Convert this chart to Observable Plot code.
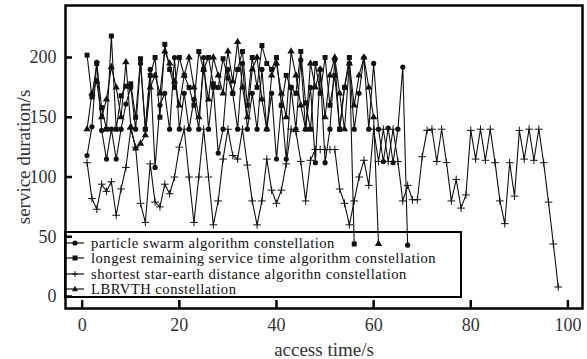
<!DOCTYPE html>
<html><head><meta charset="utf-8">
<script src="https://cdn.jsdelivr.net/npm/d3@7"></script>
<script src="https://cdn.jsdelivr.net/npm/@observablehq/plot@0.6"></script>
<style>
body{margin:0;background:#fff;}
#wrap{position:relative;width:587px;height:359px;font-family:"Liberation Serif","Times New Roman","DejaVu Serif",serif;}
#wrap svg text{font-family:"Liberation Serif","Times New Roman","DejaVu Serif",serif;}
#legend{position:absolute;left:64px;top:231px;width:398px;height:67px;border:2.5px solid #000;box-sizing:border-box;}
.row{position:absolute;left:0;height:14px;display:flex;align-items:center;font-size:14.6px;letter-spacing:0.5px;line-height:14px;color:#111;white-space:nowrap;}
.row svg{margin-right:7px;}
</style></head><body><div id="wrap"></div>
<script>
const seriesNames = [
  "particle swarm algorithm constellation",
  "longest remaining service time algorithm constellation",
  "shortest star-earth distance algorithn constellation",
  "LBRVTH constellation"
];
const xTicks = [0, 20, 40, 60, 80, 100];
const yTicks = [0, 50, 100, 150, 200];

// particle swarm (circles), t = 1..67
const psoValues = [118,142,196,139,115,140,115,140,161,175,140,195,140,190,108,160,170,140,200,140,
  170,140,165,140,200,140,175,120,140,190,170,140,195,140,170,140,190,140,170,115,
  160,115,175,140,198,140,175,112,190,112,140,198,140,175,195,140,170,200,140,195,
  140,113,141,112,140,192,43];
// longest remaining service time (squares), t = 1..56
const lrstValues = [202,167,195,158,140,218,140,168,176,178,150,199,140,185,200,150,211,190,175,200,
  185,175,160,205,190,200,178,175,199,183,170,190,205,160,200,175,210,195,190,200,
  160,185,175,170,205,162,140,195,170,200,160,185,140,175,200,44];
// shortest star-earth distance (plus), t = 1..98
const sseValues = [112,82,73,94,88,96,68,90,108,140,125,78,62,111,79,75,94,86,100,125,
  140,100,62,100,140,100,60,80,115,140,118,115,140,110,80,60,80,115,89,78,
  89,111,140,138,113,80,114,123,123,123,123,123,90,78,60,80,100,114,93,140,
  113,140,113,140,113,80,93,81,81,117,139,140,113,140,112,80,98,74,85,139,
  115,140,114,140,112,80,61,112,84,139,115,140,114,140,112,79,44,8];
// LBRVTH (triangles), t = 1..61
const lbrvthValues = [140,170,180,150,165,192,175,150,196,142,124,128,135,175,185,170,205,195,180,160,
  185,200,175,150,190,165,200,185,170,205,180,213,175,150,190,200,165,140,185,195,
  170,150,205,185,160,140,195,175,190,150,185,200,170,140,195,160,185,200,175,150,44];

const toRows = (vals) => vals.map((v, i) => ({t: i + 1, v}));
const pso = toRows(psoValues), lrst = toRows(lrstValues), sse = toRows(sseValues), lbr = toRows(lbrvthValues);

const lineOpts = {x: "t", y: "v", stroke: "#111", strokeWidth: 1.1};
const chart = Plot.plot({
  width: 587, height: 359,
  marginLeft: 65, marginRight: 5, marginTop: 5, marginBottom: 51,
  style: {fontFamily: "Liberation Serif, Times New Roman, DejaVu Serif, serif", fontSize: "17px", color: "#333", background: "#fff"},
  x: {domain: [-3.44, 103]},
  y: {domain: [-10, 243.5]},
  marks: [
    Plot.line(sse, lineOpts),
    Plot.line(lbr, lineOpts),
    Plot.line(pso, lineOpts),
    Plot.line(lrst, lineOpts),
    Plot.dot(sse, {x: "t", y: "v", symbol: "plus", r: 2.6, stroke: "#111", strokeWidth: 1}),
    Plot.dot(lbr, {x: "t", y: "v", symbol: "triangle", r: 2.7, fill: "#111"}),
    Plot.dot(pso, {x: "t", y: "v", symbol: "circle", r: 2.6, fill: "#111"}),
    Plot.dot(lrst, {x: "t", y: "v", symbol: "square", r: 2.8, fill: "#111"}),
    Plot.axisX({ticks: xTicks, tickSize: -8, tickPadding: 18, strokeWidth: 2.5, stroke: "#000", label: null, fontSize: 18}),
    Plot.axisY({ticks: yTicks, tickSize: -7, tickPadding: 16, strokeWidth: 2.5, stroke: "#000", label: null, fontSize: 18}),
    Plot.axisX({ticks: [], label: "access time/s", labelAnchor: "center", labelOffset: 47, labelArrow: "none", fontSize: 19}),
    Plot.axisY({ticks: [], label: "service duration/s", labelAnchor: "center", labelOffset: 49, labelArrow: "none", fontSize: 19}),
    Plot.frame({stroke: "#000", strokeWidth: 2.5})
  ]
});
const wrap = document.getElementById("wrap");
wrap.appendChild(chart);

// legend
const legend = document.createElement("div");
legend.id = "legend";
const glyphs = [
  '<circle cx="9" cy="6" r="2.6" fill="#111"/>',
  '<rect x="6.5" y="3.5" width="5" height="5" fill="#111"/>',
  '<path d="M9,3V9M6,6H12" stroke="#111" stroke-width="1"/>',
  '<path d="M9,2.8L12,8.2H6Z" fill="#111"/>'
];
seriesNames.forEach((name, i) => {
  const row = document.createElement("div");
  row.className = "row";
  row.style.top = (3 + i * 15.3) + "px";
  row.innerHTML = `<svg width="18" height="12"><line x1="0" y1="6" x2="18" y2="6" stroke="#111" stroke-width="1.2"/>${glyphs[i]}</svg><span>${name}</span>`;
  legend.appendChild(row);
});
wrap.appendChild(legend);
</script></body></html>
